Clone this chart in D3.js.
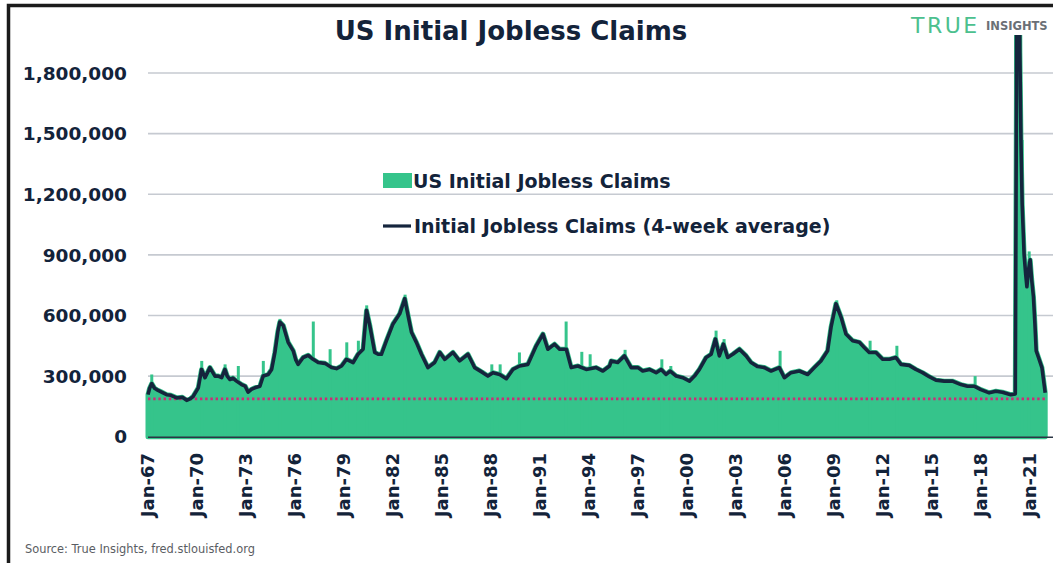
<html>
<head>
  <script src="https://d3js.org/d3.v7.min.js"></script>
  <style>
    body { margin: 0; background: #fff; }
    text { font-family: "DejaVu Sans", sans-serif; }
  </style>
</head>
<body>
<svg width="1053" height="563"></svg>
<script>
// 4-week average of initial claims, [decimal year, thousands]
var avg4wk = [
  [1967.0, 208], [1967.1, 240], [1967.23, 263], [1967.4, 240], [1967.53, 233], [1967.8, 222],
  [1968.14, 208], [1968.4, 205], [1968.76, 192], [1969.1, 195], [1969.37, 180], [1969.6, 188],
  [1969.77, 200], [1970.08, 242], [1970.28, 333], [1970.49, 292], [1970.79, 342], [1971.1, 300],
  [1971.3, 300], [1971.51, 292], [1971.71, 333], [1971.85, 300], [1972.02, 283], [1972.2, 290],
  [1972.42, 275], [1972.73, 258], [1972.95, 250], [1973.13, 220], [1973.35, 235], [1973.54, 242],
  [1973.85, 250], [1974.05, 300], [1974.36, 308], [1974.57, 333], [1974.77, 417], [1974.95, 520],
  [1975.07, 567], [1975.28, 550], [1975.58, 467], [1975.89, 425], [1976.05, 380], [1976.19, 358],
  [1976.5, 392], [1976.8, 403], [1977.11, 383], [1977.42, 367], [1977.83, 363], [1978.24, 342],
  [1978.54, 337], [1978.85, 350], [1979.15, 383], [1979.56, 367], [1979.86, 408], [1980.17, 433],
  [1980.38, 625], [1980.58, 550], [1980.88, 417], [1981.09, 408], [1981.29, 408], [1981.6, 475],
  [1982.0, 558], [1982.41, 608], [1982.72, 683], [1982.92, 600], [1983.13, 517], [1983.43, 467],
  [1983.74, 408], [1984.14, 342], [1984.55, 367], [1984.86, 417], [1985.17, 383], [1985.67, 417],
  [1986.08, 375], [1986.59, 408], [1987.0, 342], [1987.5, 317], [1987.81, 300], [1988.12, 317],
  [1988.53, 308], [1988.94, 287], [1989.34, 333], [1989.75, 350], [1990.26, 358], [1990.77, 450],
  [1991.18, 508], [1991.48, 433], [1991.89, 458], [1992.2, 433], [1992.61, 433], [1992.91, 342],
  [1993.32, 350], [1993.83, 333], [1994.44, 342], [1994.65, 333], [1994.85, 325], [1995.26, 350],
  [1995.36, 375], [1995.76, 367], [1996.17, 400], [1996.58, 342], [1997.0, 342], [1997.29, 325],
  [1997.7, 333], [1998.11, 317], [1998.42, 333], [1998.72, 308], [1998.97, 325], [1999.34, 300],
  [1999.74, 292], [2000.15, 275], [2000.46, 300], [2000.76, 333], [2001.17, 392], [2001.48, 408],
  [2001.74, 483], [2001.98, 400], [2002.23, 458], [2002.49, 392], [2002.8, 408], [2003.21, 433],
  [2003.62, 400], [2003.92, 367], [2004.33, 347], [2004.74, 342], [2005.15, 325], [2005.65, 342],
  [2005.96, 292], [2006.37, 317], [2006.88, 325], [2007.39, 308], [2007.8, 342], [2008.2, 375],
  [2008.61, 425], [2008.82, 542], [2009.12, 658], [2009.43, 592], [2009.73, 508], [2010.14, 475],
  [2010.55, 467], [2010.85, 442], [2011.16, 417], [2011.57, 417], [2011.98, 383], [2012.39, 383],
  [2012.79, 392], [2013.1, 358], [2013.6, 353], [2014.01, 333], [2014.42, 317], [2014.83, 297],
  [2015.24, 280], [2015.75, 275], [2016.25, 275], [2016.77, 258], [2017.17, 250], [2017.58, 250],
  [2017.99, 233], [2018.5, 217], [2018.91, 225], [2019.31, 220], [2019.82, 208], [2020.1, 212],
  [2020.17, 1700], [2020.22, 4200], [2020.3, 3000], [2020.38, 1900], [2020.45, 1450], [2020.52, 1150],
  [2020.64, 900], [2020.74, 800], [2020.81, 742], [2020.9, 820], [2021.01, 875], [2021.1, 780],
  [2021.21, 692], [2021.3, 560], [2021.38, 425], [2021.52, 392], [2021.73, 342], [2021.93, 218]
];

// weekly readings that stick out above the average, [decimal year, thousands]
var weeklySpikes = [
  [1967.23, 308], [1970.29, 375], [1971.72, 358], [1972.53, 350], [1974.06, 375], [1975.08, 583],
  [1977.12, 570], [1978.15, 433], [1979.17, 467], [1979.88, 475], [1980.39, 650], [1982.74, 703],
  [1988.05, 358], [1988.56, 358], [1989.74, 417], [1992.6, 570], [1993.56, 420], [1994.07, 408],
  [1996.21, 430], [1998.46, 383], [1999.01, 350], [2001.78, 525], [2002.27, 483], [2005.7, 425],
  [2009.17, 675], [2011.21, 475], [2012.85, 450], [2017.64, 300], [2020.52, 1468], [2020.95, 917]
];

var lowLevel = 187000;
var yTicks = [0, 300000, 600000, 900000, 1200000, 1500000, 1800000];
var xTickYears = d3.range(1967, 2022, 3);

var svg = d3.select("svg");
var green = "#35c48b", navy = "#15253d";

var x = d3.scaleLinear().domain([1967, 2021]).range([148, 1030]);
var y = d3.scaleLinear().domain([0, 1800000]).range([436.7, 73]);

// frame
svg.append("rect")
  .attr("x", 8.5).attr("y", 5.5)
  .attr("width", 1100).attr("height", 600)
  .attr("fill", "none").attr("stroke", "#1b1b1b").attr("stroke-width", 3.5);

svg.append("clipPath").attr("id", "plot")
  .append("rect").attr("x", 140).attr("y", 35).attr("width", 913).attr("height", 410);

// gridlines
svg.append("g").selectAll("line")
  .data(yTicks.slice(1))
  .enter().append("line")
    .attr("x1", 148).attr("x2", 1053)
    .attr("y1", function(d) { return y(d); })
    .attr("y2", function(d) { return y(d); })
    .attr("stroke", "#c6cad1").attr("stroke-width", 1.6);

var plot = svg.append("g").attr("clip-path", "url(#plot)");

var area = d3.area()
  .x(function(d) { return x(d[0]); })
  .y0(y(0))
  .y1(function(d) { return y(d[1] * 1000); });

var line = d3.line()
  .x(function(d) { return x(d[0]); })
  .y(function(d) { return y(d[1] * 1000); });

plot.append("path")
  .datum(avg4wk)
  .attr("d", area)
  .attr("fill", green)
  .attr("stroke", green).attr("stroke-width", 5).attr("stroke-linejoin", "round");

plot.selectAll(".spike")
  .data(weeklySpikes)
  .enter().append("line")
    .attr("class", "spike")
    .attr("x1", function(d) { return x(d[0]); })
    .attr("x2", function(d) { return x(d[0]); })
    .attr("y1", y(0))
    .attr("y2", function(d) { return y(d[1] * 1000); })
    .attr("stroke", green).attr("stroke-width", 3);

plot.append("line")
  .attr("x1", 148).attr("x2", x(avg4wk[avg4wk.length - 1][0]))
  .attr("y1", y(lowLevel)).attr("y2", y(lowLevel))
  .attr("stroke", "#cc2c78").attr("stroke-width", 2.6)
  .attr("stroke-dasharray", "2.4,2.8");

plot.append("path")
  .datum(avg4wk)
  .attr("d", line)
  .attr("fill", "none")
  .attr("stroke", navy).attr("stroke-width", 3.6).attr("stroke-linejoin", "round");

// bottom axis line
svg.append("line")
  .attr("x1", 148).attr("x2", 1053)
  .attr("y1", y(0) + 0.5).attr("y2", y(0) + 0.5)
  .attr("stroke", "#2b3544").attr("stroke-width", 1.5);

// y labels
svg.append("g").selectAll("text")
  .data(yTicks)
  .enter().append("text")
    .attr("x", 127)
    .attr("y", function(d) { return y(d); })
    .attr("dy", "0.36em")
    .attr("text-anchor", "end")
    .attr("font-size", "18.5px").attr("font-weight", "bold")
    .attr("fill", "#13233a")
    .text(function(d) { return d3.format(",")(d); });

// x labels
svg.append("g").selectAll("text")
  .data(xTickYears)
  .enter().append("text")
    .attr("transform", function(d) { return "translate(" + x(d) + ",453) rotate(-90)"; })
    .attr("dy", "0.36em")
    .attr("text-anchor", "end")
    .attr("font-size", "18px").attr("font-weight", "bold")
    .attr("fill", "#13233a")
    .text(function(d) { return "Jan-" + String(d).slice(2); });

// title
svg.append("text")
  .attr("x", 511).attr("y", 40)
  .attr("text-anchor", "middle")
  .attr("font-size", "26px").attr("font-weight", "bold")
  .attr("fill", "#13233a")
  .text("US Initial Jobless Claims");

// logo
svg.append("text")
  .attr("x", 911).attr("y", 33)
  .attr("font-family", "Lato").attr("font-weight", 400)
  .attr("font-size", "22px").attr("letter-spacing", "2.5px")
  .attr("fill", "#4cc08e")
  .text("TRUE");
svg.append("text")
  .attr("x", 986).attr("y", 30)
  .attr("font-size", "11.5px").attr("font-weight", "bold")
  .attr("fill", "#6b6f76")
  .text("INSIGHTS");

// legend
var legend = svg.append("g");
legend.append("rect")
  .attr("x", 383).attr("y", 173).attr("width", 29).attr("height", 15)
  .attr("fill", green);
legend.append("text")
  .attr("x", 413).attr("y", 188)
  .attr("font-size", "19px").attr("font-weight", "bold").attr("fill", "#13233a")
  .text("US Initial Jobless Claims");
legend.append("line")
  .attr("x1", 383).attr("x2", 411).attr("y1", 226).attr("y2", 226)
  .attr("stroke", navy).attr("stroke-width", 3.2);
legend.append("text")
  .attr("x", 414).attr("y", 233)
  .attr("font-size", "19px").attr("font-weight", "bold").attr("fill", "#13233a")
  .text("Initial Jobless Claims (4-week average)");

// source
svg.append("text")
  .attr("x", 25).attr("y", 553)
  .attr("font-family", "Lato").attr("font-size", "11.4px")
  .attr("fill", "#5a5d63")
  .text("Source: True Insights, fred.stlouisfed.org");
</script>
</body>
</html>
